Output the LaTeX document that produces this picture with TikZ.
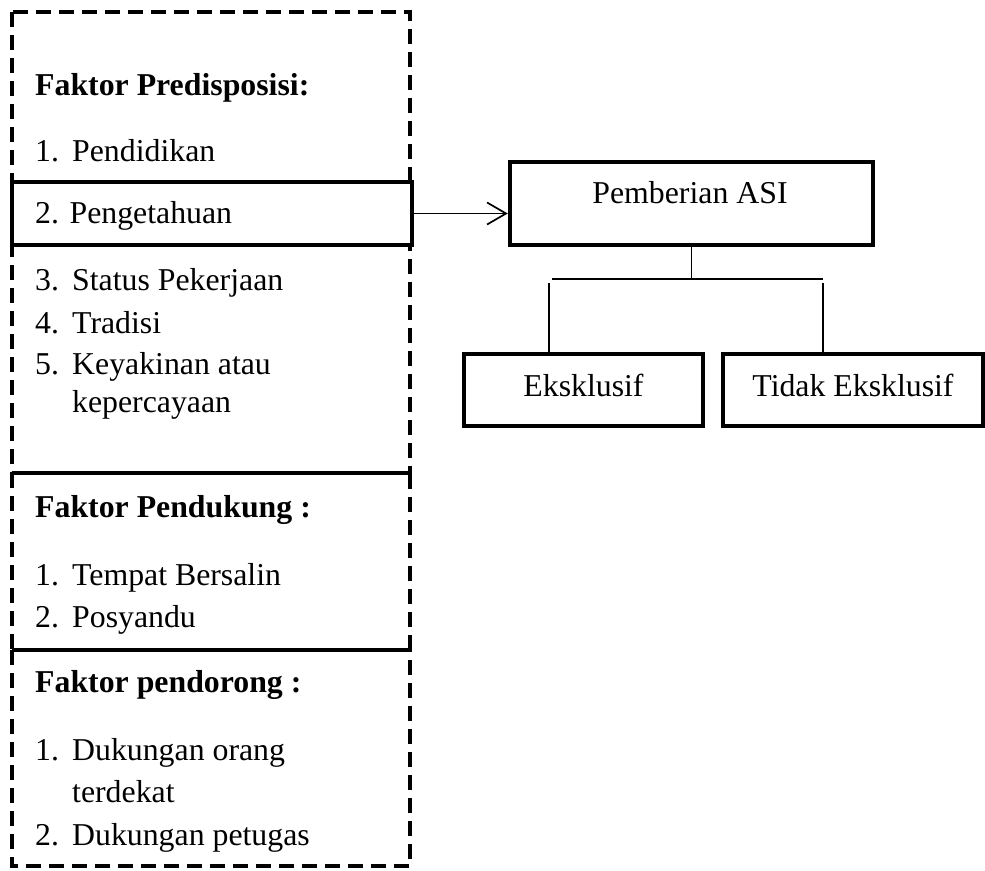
\documentclass[tikz,border=0pt]{standalone}
\usepackage{fontspec}
\setmainfont{Liberation Serif}
\usetikzlibrary{arrows.meta}
\tikzset{
  dashbox/.style={line width=4pt, dash pattern=on 15pt off 8pt},
  solidbox/.style={draw, line width=4.5pt, inner sep=0pt},
  item/.style={anchor=base west, inner sep=0pt},
  branch/.style={line width=1.3pt}
}
\newcommand{\nr}[1]{\makebox[37pt][l]{#1}}
\begin{document}
\begin{tikzpicture}[x=1pt, y=-1pt, font=\fontsize{31.8}{38}\selectfont]
\useasboundingbox (0,0) rectangle (985,870);
% dashed frames on the left
\draw[dashbox] (12,12) rectangle (410,473);
\draw[dashbox] (12,473) rectangle (410,650);
\draw[dashbox] (12,650) rectangle (410,866);
% predisposing factors
\node[item] (pre) at (35,95) {\textbf{Faktor Predisposisi:}};
\node[item] (pre1) at (35,161) {\nr{1.}Pendidikan};
\node[solidbox, fill=white, minimum width=400pt, minimum height=63pt] (peng) at (212,213.5) {};
\node[item] (pre2) at (35,223) {2. Pengetahuan};
\node[item] (pre3) at (35,290) {\nr{3.}Status Pekerjaan};
\node[item] (pre4) at (35,333) {\nr{4.}Tradisi};
\node[item] (pre5) at (35,374) {\nr{5.}Keyakinan atau};
\node[item] (pre5b) at (72,412) {kepercayaan};
% enabling factors
\node[item] (dkg) at (35,517) {\textbf{Faktor Pendukung :}};
\node[item] (dkg1) at (35,585) {\nr{1.}Tempat Bersalin};
\node[item] (dkg2) at (35,627) {\nr{2.}Posyandu};
% reinforcing factors
\node[item] (drg) at (35,692) {\textbf{Faktor pendorong :}};
\node[item] (drg1) at (35,760) {\nr{1.}Dukungan orang};
\node[item] (drg1b) at (72,802) {terdekat};
\node[item] (drg2) at (35,845) {\nr{2.}Dukungan petugas};
% outcome
\node[solidbox, minimum width=363pt, minimum height=83pt] (asi) at (691.5,203.5) {};
\node[anchor=base, inner sep=0pt] (asitxt) at (690,203) {Pemberian ASI};
\node[solidbox, minimum width=239pt, minimum height=72pt, text height=21pt, text depth=9pt] (eks) at (583.5,390) {Eksklusif};
\node[solidbox, minimum width=260pt, minimum height=72pt, text height=21pt, text depth=9pt] (tdk) at (853,390) {Tidak Eksklusif};
\draw[line width=1.7pt, -{Straight Barb[length=19pt, width=22pt]}] (peng.east) -- (peng.east -| asi.west);
\coordinate (brl) at (549,279);
\coordinate (brr) at (823,279);
\draw[branch] (asi.south) -- (asi.south |- brl);
\draw[branch] ([xshift=3pt]brl) -- (brr);
\draw[branch] ([yshift=-4pt]brl) -- (brl |- eks.north);
\draw[branch] ([yshift=-4pt]brr) -- (brr |- tdk.north);
\end{tikzpicture}
\end{document}
